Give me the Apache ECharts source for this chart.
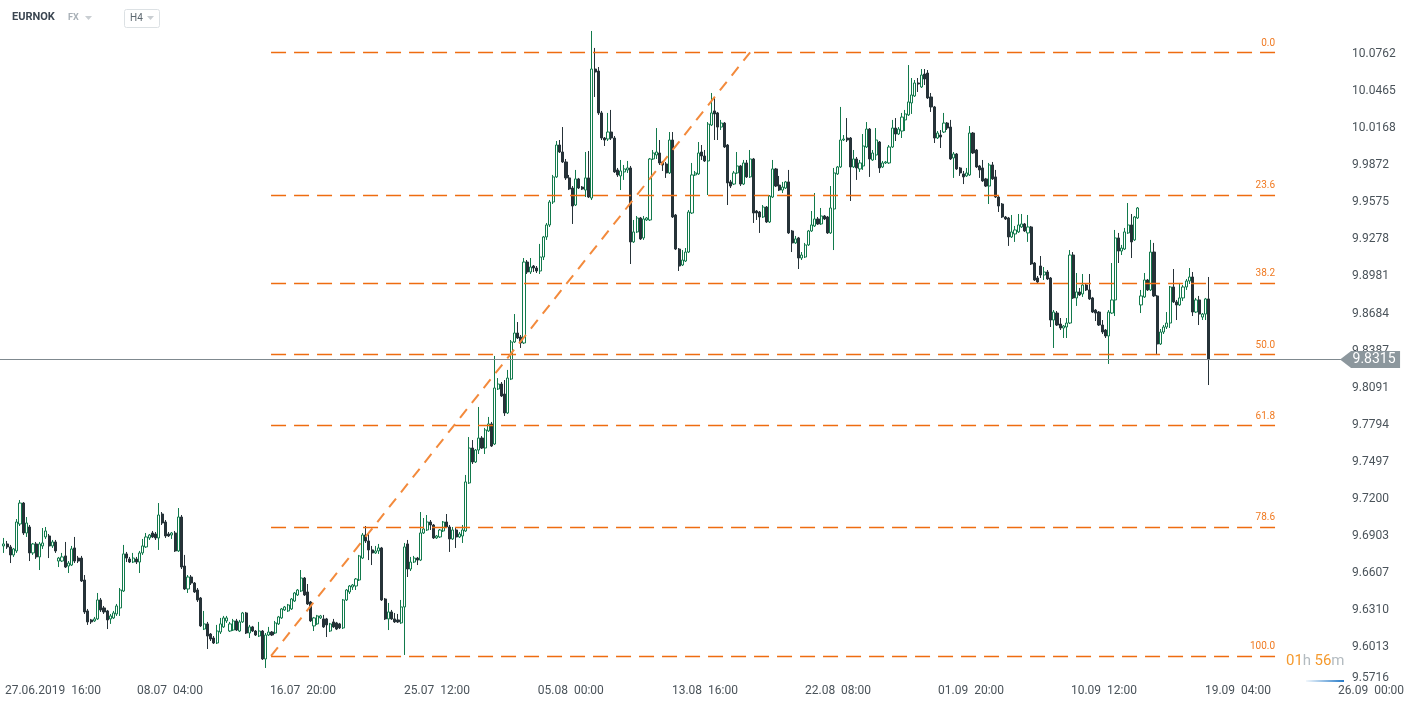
<!DOCTYPE html>
<html><head><meta charset="utf-8">
<script src="https://cdn.jsdelivr.net/npm/echarts@6/dist/echarts.min.js"></script>
<style>html,body{margin:0;padding:0;background:#fff;}#c{width:1412px;height:707px;}</style>
</head><body><div id="c"></div>
<script>
const instrument = 'EURNOK';
const market = 'FX';
const timeframe = 'H4';

const opens = [
9.6821,9.6837,9.6813,9.6749,9.6781,9.6997,9.7165,9.6925,9.6973,9.6765,
9.6837,9.6733,9.6821,9.6893,9.6901,9.6821,9.6853,9.6700,9.6700,9.6741,
9.6660,9.6668,9.6805,9.6724,9.6724,9.6548,9.6300,9.6228,9.6220,9.6236,
9.6388,9.6324,9.6300,9.6236,9.6244,9.6276,9.6324,9.6460,9.6757,9.6716,
9.6692,9.6716,9.6692,9.6765,9.6813,9.6885,9.6925,9.6917,9.6885,9.7077,
9.7013,9.6917,9.6909,9.6925,9.6781,9.7053,9.6660,9.6476,9.6572,9.6524,
9.6468,9.6404,9.6155,9.6196,9.6115,9.6083,9.6043,9.6131,9.6172,9.6220,
9.6139,9.6147,9.6220,9.6139,9.6212,9.6284,9.6123,9.6172,9.6139,9.6099,
9.6139,9.5915,9.6107,9.6131,9.6123,9.6196,9.6244,9.6308,9.6300,9.6316,
9.6380,9.6428,9.6460,9.6564,9.6452,9.6372,9.6180,9.6196,9.6244,9.6236,
9.6236,9.6139,9.6212,9.6204,9.6196,9.6164,9.6388,9.6452,9.6492,9.6500,
9.6548,9.6724,9.6909,9.6861,9.6789,9.6765,9.6781,9.6805,9.6396,9.6236,
9.6292,9.6236,9.6228,9.6204,9.6332,9.6837,9.6636,9.6692,9.6724,9.6708,
9.6925,9.6949,9.7013,9.6989,9.6885,9.6893,9.6941,9.7013,9.6973,9.6877,
9.6949,9.6893,9.6901,9.6941,9.7326,9.7606,9.7494,9.7590,9.7686,9.7606,
9.7743,9.7799,9.7638,9.8079,9.8119,9.8039,9.7887,9.8159,9.8456,9.8528,
9.8496,9.8448,9.9097,9.9017,9.9065,9.9049,9.9025,9.9137,9.9298,9.9394,
9.9578,9.9779,10.0035,9.9979,9.9899,9.9771,9.9690,9.9554,9.9763,9.9698,
9.9674,9.9771,9.9610,10.0644,10.0628,10.0292,10.0091,10.0083,10.0139,10.0091,
9.9835,9.9787,9.9819,9.9835,9.9851,9.9258,9.9338,9.9450,9.9290,9.9434,
9.9434,9.9923,9.9955,9.9971,9.9899,9.9883,9.9811,10.0075,9.9474,9.9201,
9.9073,9.9105,9.9177,9.9490,9.9795,9.9803,9.9979,9.9947,9.9907,10.0195,
10.0308,10.0292,10.0179,10.0211,10.0035,9.9739,9.9722,9.9811,9.9867,9.9722,
9.9891,9.9779,9.9923,9.9506,9.9498,9.9458,9.9538,9.9418,9.9618,9.9843,
9.9714,9.9674,9.9690,9.9739,9.9346,9.9250,9.9290,9.9129,9.9137,9.9234,
9.9346,9.9386,9.9442,9.9402,9.9466,9.9458,9.9330,9.9522,9.9803,9.9859,
10.0075,10.0091,10.0091,9.9859,9.9923,9.9843,9.9867,10.0019,10.0163,9.9915,
9.9955,10.0059,9.9859,9.9891,9.9891,10.0019,10.0171,10.0123,10.0147,10.0236,
10.0276,10.0372,10.0428,10.0532,10.0500,10.0604,10.0612,10.0420,10.0340,10.0091,
10.0115,10.0139,10.0211,10.0179,9.9931,9.9963,9.9851,9.9803,9.9787,9.9795,
10.0131,9.9995,9.9867,9.9851,9.9763,9.9706,9.9875,9.9779,9.9618,9.9562,
9.9458,9.9450,9.9298,9.9322,9.9338,9.9378,9.9402,9.9330,9.9378,9.9089,
9.8969,9.9065,9.8993,9.9017,9.8969,9.8632,9.8688,9.8600,9.8568,9.8576,
9.8608,9.9153,9.8809,9.8857,9.8841,9.8913,9.8873,9.8809,9.8712,9.8696,
9.8592,9.8552,9.8504,9.8688,9.8793,9.9290,9.9185,9.9201,9.9330,9.9394,
9.9274,9.9450,9.8753,9.8817,9.8953,9.8873,9.9177,9.8825,9.8440,9.8536,
9.8576,9.8608,9.8897,9.8777,9.8753,9.8809,9.8897,9.8945,9.8977,9.8696,
9.8793,9.8656,9.8680,9.8801
];
const closes = [
9.6837,9.6813,9.6749,9.6797,9.7013,9.7165,9.6925,9.7005,9.6765,9.6837,
9.6733,9.6837,9.6845,9.6941,9.6821,9.6853,9.6781,9.6724,9.6733,9.6652,
9.6684,9.6797,9.6700,9.6700,9.6540,9.6292,9.6212,9.6212,9.6236,9.6388,
9.6308,9.6292,9.6228,9.6260,9.6284,9.6340,9.6468,9.6757,9.6724,9.6692,
9.6724,9.6692,9.6765,9.6821,9.6893,9.6909,9.6893,9.6885,9.7069,9.7005,
9.6901,9.6901,9.6925,9.6781,9.7053,9.6652,9.6476,9.6572,9.6524,9.6452,
9.6388,9.6180,9.6196,9.6099,9.6075,9.6043,9.6139,9.6196,9.6244,9.6244,
9.6196,9.6220,9.6147,9.6212,9.6284,9.6123,9.6172,9.6139,9.6107,9.6139,
9.5915,9.6107,9.6131,9.6107,9.6204,9.6252,9.6316,9.6332,9.6348,9.6396,
9.6444,9.6468,9.6564,9.6428,9.6356,9.6220,9.6244,9.6260,9.6260,9.6172,
9.6188,9.6196,9.6172,9.6155,9.6164,9.6388,9.6468,9.6500,9.6508,9.6556,
9.6741,9.6909,9.6861,9.6789,9.6765,9.6781,9.6805,9.6388,9.6236,9.6292,
9.6236,9.6212,9.6212,9.6332,9.6813,9.6636,9.6692,9.6724,9.6708,9.6925,
9.6957,9.7013,9.6989,9.6885,9.6901,9.6949,9.7013,9.6973,9.6877,9.6949,
9.6893,9.6917,9.6949,9.7334,9.7606,9.7494,9.7590,9.7686,9.7606,9.7751,
9.7799,9.7622,9.8087,9.8119,9.8023,9.7887,9.8167,9.8456,9.8528,9.8488,
9.8448,9.9097,9.9017,9.9057,9.9049,9.9025,9.9137,9.9298,9.9394,9.9578,
9.9779,10.0035,9.9979,9.9899,9.9771,9.9682,9.9546,9.9763,9.9690,9.9682,
9.9771,9.9618,10.0644,10.0620,10.0292,10.0091,10.0075,10.0139,10.0091,9.9819,
9.9795,9.9827,9.9843,9.9851,9.9258,9.9338,9.9450,9.9282,9.9442,9.9450,
9.9923,9.9971,9.9979,9.9891,9.9875,9.9811,10.0075,9.9458,9.9201,9.9065,
9.9113,9.9177,9.9498,9.9795,9.9811,9.9971,9.9947,9.9907,10.0203,10.0292,
10.0284,10.0179,10.0211,10.0019,9.9731,9.9706,9.9811,9.9867,9.9722,9.9891,
9.9779,9.9923,9.9490,9.9490,9.9458,9.9538,9.9418,9.9626,9.9843,9.9706,
9.9674,9.9698,9.9739,9.9330,9.9250,9.9282,9.9129,9.9153,9.9234,9.9346,
9.9394,9.9442,9.9402,9.9466,9.9442,9.9330,9.9530,9.9811,9.9859,10.0075,
10.0083,10.0075,9.9859,9.9923,9.9851,9.9891,10.0027,10.0163,9.9923,9.9971,
10.0075,9.9851,9.9891,9.9899,10.0019,10.0171,10.0123,10.0163,10.0259,10.0284,
10.0380,10.0436,10.0532,10.0524,10.0596,10.0564,10.0412,10.0340,10.0091,10.0131,
10.0099,10.0211,10.0171,9.9923,9.9963,9.9843,9.9811,9.9779,9.9811,10.0131,
9.9971,9.9859,9.9835,9.9747,9.9706,9.9875,9.9763,9.9618,9.9546,9.9458,
9.9442,9.9298,9.9338,9.9354,9.9394,9.9402,9.9346,9.9378,9.9081,9.8953,
9.8937,9.8993,9.9017,9.8961,9.8632,9.8696,9.8592,9.8568,9.8584,9.8608,
9.9153,9.8809,9.8857,9.8833,9.8913,9.8873,9.8801,9.8696,9.8688,9.8592,
9.8536,9.8504,9.8696,9.8793,9.9290,9.9185,9.9209,9.9338,9.9394,9.9258,
9.9458,9.9530,9.8825,9.8953,9.8873,9.9177,9.8825,9.8440,9.8536,9.8576,
9.8608,9.8897,9.8777,9.8753,9.8809,9.8897,9.8945,9.8977,9.8696,9.8793,
9.8680,9.8680,9.8801,9.8315
];
const lows = [
9.6765,9.6797,9.6684,9.6733,9.6765,9.6981,9.6909,9.6893,9.6700,9.6749,
9.6717,9.6628,9.6797,9.6877,9.6724,9.6805,9.6765,9.6652,9.6692,9.6644,
9.6604,9.6660,9.6684,9.6684,9.6532,9.6276,9.6188,9.6196,9.6212,9.6228,
9.6292,9.6276,9.6155,9.6196,9.6236,9.6260,9.6260,9.6452,9.6692,9.6684,
9.6684,9.6676,9.6604,9.6749,9.6805,9.6869,9.6885,9.6869,9.6789,9.6989,
9.6885,9.6893,9.6877,9.6773,9.6773,9.6636,9.6468,9.6444,9.6508,9.6444,
9.6372,9.6172,9.6147,9.5995,9.6059,9.6035,9.6035,9.6115,9.6164,9.6204,
9.6131,9.6139,9.6139,9.6131,9.6204,9.6115,9.6083,9.6131,9.6099,9.6091,
9.5907,9.5843,9.6099,9.6099,9.6115,9.6188,9.6236,9.6300,9.6292,9.6308,
9.6372,9.6420,9.6452,9.6420,9.6348,9.6212,9.6139,9.6188,9.6236,9.6164,
9.6091,9.6131,9.6164,9.6147,9.6155,9.6155,9.6380,9.6436,9.6468,9.6468,
9.6540,9.6716,9.6845,9.6708,9.6668,9.6757,9.6757,9.6380,9.6228,9.6147,
9.6228,9.6204,9.6204,9.6196,9.5947,9.6572,9.6620,9.6684,9.6668,9.6700,
9.6917,9.6941,9.6949,9.6877,9.6877,9.6885,9.6933,9.6965,9.6773,9.6869,
9.6805,9.6885,9.6845,9.6933,9.7318,9.7478,9.7486,9.7558,9.7598,9.7558,
9.7735,9.7614,9.7630,9.8071,9.8015,9.7863,9.7879,9.8151,9.8448,9.8480,
9.8408,9.8440,9.9001,9.9001,9.9017,9.9009,9.9001,9.9113,9.9274,9.9378,
9.9562,9.9771,9.9971,9.9891,9.9755,9.9674,9.9402,9.9546,9.9682,9.9674,
9.9618,9.9610,9.9594,10.0420,10.0276,10.0075,10.0027,10.0067,10.0075,9.9811,
9.9779,9.9674,9.9755,9.9811,9.9081,9.9250,9.9330,9.9274,9.9274,9.9426,
9.9426,9.9915,9.9923,9.9875,9.9827,9.9771,9.9803,9.9450,9.9193,9.9025,
9.9065,9.9097,9.9169,9.9482,9.9787,9.9795,9.9915,9.9899,9.9634,10.0187,
10.0075,10.0075,10.0155,10.0011,9.9554,9.9690,9.9714,9.9803,9.9706,9.9714,
9.9771,9.9771,9.9410,9.9434,9.9330,9.9450,9.9410,9.9410,9.9610,9.9698,
9.9666,9.9650,9.9682,9.9322,9.9177,9.9242,9.9041,9.9113,9.9129,9.9226,
9.9338,9.9378,9.9394,9.9394,9.9434,9.9322,9.9322,9.9193,9.9795,9.9851,
10.0067,10.0059,9.9586,9.9851,9.9755,9.9819,9.9835,10.0011,9.9779,9.9907,
9.9915,9.9811,9.9851,9.9883,9.9883,10.0011,10.0067,10.0115,10.0091,10.0147,
10.0268,10.0284,10.0420,10.0460,10.0492,10.0516,10.0404,10.0300,10.0051,10.0083,
10.0011,10.0131,10.0155,9.9915,9.9771,9.9835,9.9787,9.9722,9.9779,9.9787,
9.9963,9.9851,9.9771,9.9739,9.9698,9.9562,9.9755,9.9610,9.9498,9.9450,
9.9434,9.9226,9.9290,9.9258,9.9330,9.9370,9.9338,9.9258,9.9073,9.8945,
9.8921,9.8969,9.8953,9.8953,9.8576,9.8408,9.8584,9.8552,9.8488,9.8488,
9.8600,9.8801,9.8745,9.8825,9.8817,9.8865,9.8793,9.8688,9.8624,9.8584,
9.8520,9.8488,9.8280,9.8680,9.8664,9.9089,9.9153,9.9193,9.9322,9.9129,
9.9266,9.9442,9.8688,9.8809,9.8865,9.8865,9.8817,9.8360,9.8432,9.8520,
9.8560,9.8568,9.8769,9.8632,9.8745,9.8785,9.8873,9.8921,9.8664,9.8688,
9.8592,9.8632,9.8632,9.8111
];
const highs = [
9.6885,9.6861,9.6829,9.6805,9.7037,9.7189,9.7173,9.7053,9.6989,9.6845,
9.6853,9.6853,9.6965,9.6973,9.6917,9.6869,9.6869,9.6733,9.6765,9.6853,
9.6700,9.6821,9.6893,9.6741,9.6741,9.6588,9.6316,9.6236,9.6252,9.6444,
9.6404,9.6340,9.6308,9.6276,9.6300,9.6356,9.6484,9.6829,9.6773,9.6733,
9.6765,9.6733,9.6781,9.6877,9.6925,9.6917,9.6941,9.6933,9.7165,9.7093,
9.7029,9.6933,9.6933,9.6941,9.7125,9.7069,9.6749,9.6588,9.6588,9.6532,
9.6484,9.6412,9.6300,9.6212,9.6123,9.6099,9.6188,9.6244,9.6260,9.6260,
9.6212,9.6236,9.6236,9.6228,9.6292,9.6292,9.6188,9.6180,9.6147,9.6212,
9.6147,9.6123,9.6172,9.6139,9.6220,9.6260,9.6324,9.6340,9.6356,9.6404,
9.6452,9.6476,9.6628,9.6572,9.6516,9.6380,9.6252,9.6268,9.6268,9.6268,
9.6244,9.6204,9.6236,9.6212,9.6204,9.6396,9.6476,9.6508,9.6516,9.6564,
9.6749,9.6925,9.6981,9.6917,9.6821,9.6821,9.6837,9.6813,9.6404,9.6364,
9.6308,9.6284,9.6276,9.6388,9.6845,9.6869,9.6733,9.6741,9.6733,9.7093,
9.7045,9.7069,9.7029,9.6997,9.6909,9.6957,9.7021,9.7077,9.6989,9.6973,
9.6965,9.6933,9.6989,9.7390,9.7694,9.7670,9.7598,9.7935,9.7702,9.7767,
9.7855,9.7815,9.8344,9.8167,9.8135,9.8151,9.8232,9.8472,9.8680,9.8616,
9.8512,9.9129,9.9113,9.9129,9.9073,9.9065,9.9242,9.9306,9.9410,9.9594,
9.9795,10.0067,10.0075,10.0179,9.9923,9.9795,9.9706,9.9835,9.9771,9.9706,
9.9979,9.9987,10.0949,10.0813,10.0660,10.0308,10.0099,10.0292,10.0316,10.0107,
9.9851,9.9915,9.9875,9.9907,9.9867,9.9434,9.9466,9.9458,9.9466,9.9458,
9.9931,9.9995,10.0171,10.0075,9.9907,9.9899,10.0139,10.0139,9.9482,9.9209,
9.9193,9.9209,9.9514,9.9891,9.9827,10.0059,10.0035,9.9995,10.0219,10.0452,
10.0420,10.0300,10.0236,10.0219,10.0043,9.9755,9.9827,9.9979,9.9875,9.9915,
9.9915,9.9995,9.9931,9.9514,9.9506,9.9554,9.9546,9.9634,9.9915,9.9851,
9.9787,9.9739,9.9747,9.9835,9.9354,9.9306,9.9298,9.9177,9.9250,9.9354,
9.9506,9.9650,9.9458,9.9530,9.9474,9.9466,9.9706,9.9851,9.9867,10.0340,
10.0115,10.0251,10.0099,9.9995,9.9939,9.9915,10.0123,10.0219,10.0171,9.9995,
10.0171,10.0067,9.9907,9.9907,10.0035,10.0236,10.0251,10.0179,10.0292,10.0316,
10.0676,10.0572,10.0556,10.0572,10.0644,10.0644,10.0636,10.0452,10.0348,10.0147,
10.0155,10.0292,10.0219,10.0236,9.9979,9.9971,9.9859,9.9827,9.9851,10.0187,
10.0139,10.0003,9.9875,9.9915,9.9771,9.9891,9.9899,9.9835,9.9626,9.9570,
9.9466,9.9458,9.9474,9.9386,9.9482,9.9482,9.9410,9.9474,9.9386,9.9097,
9.8985,9.9145,9.9057,9.9033,9.8977,9.8712,9.8704,9.8648,9.8592,9.8648,
9.9193,9.9177,9.9009,9.8889,9.9001,9.8921,9.9001,9.8817,9.8720,9.8704,
9.8632,9.8560,9.8712,9.9089,9.9354,9.9330,9.9234,9.9370,9.9570,9.9482,
9.9466,9.9538,9.8873,9.9009,9.8961,9.9274,9.9250,9.8833,9.8560,9.8592,
9.8696,9.8905,9.9041,9.8793,9.8929,9.8913,9.8961,9.9049,9.9017,9.8809,
9.8825,9.8688,9.8809,9.8977
];

// time axis: positions in candle-index units and their labels
const timeTickPos = [15.2, 51.4, 92.6, 134.1, 175.5, 217.0, 258.2, 299.4, 340.5, 382.0, 423.2];
const timeTickLabels = ['27.06.2019  16:00', '08.07  04:00', '16.07  20:00', '25.07  12:00', '05.08  00:00',
  '13.08  16:00', '22.08  08:00', '01.09  20:00', '10.09  12:00', '19.09  04:00', '26.09  00:00'];
// price axis tick labels
const priceTicks = ['9.5716', '9.6013', '9.6310', '9.6607', '9.6903', '9.7200', '9.7497', '9.7794', '9.8091',
  '9.8387', '9.8684', '9.8981', '9.9278', '9.9575', '9.9872', '10.0168', '10.0465', '10.0762'];

// Fibonacci retracement drawing (anchors in candle index / price)
const fibHigh = 10.0778;
const fibLow = 9.5939;
const fibStartIdx = 82.7;
const fibEndIdx = 393.5;
const trendTopIdx = 231.0;
const fibRatios = [0, 23.6, 38.2, 50, 61.8, 78.6, 100];

const lastPrice = 9.8315;
const lastPriceLineEndIdx = 415;
const lastPriceTagIdx = 422.9;
const countdown = ['01', '56'];

const xMin = -1.2, xMax = 433.4;
const yMin = 9.5716, yMax = 10.1037;

const FONT = 'Roboto, "Noto Sans", sans-serif';
const ORANGE = '#ee6c10';

const candleData = opens.map((o, i) => [i, o, closes[i], lows[i], highs[i]]);
const fibRange = fibHigh - fibLow;
const fibLabelStyle = (txt) => ({
  show: true, position: 'insideEndTop', formatter: txt, color: '#f07a22',
  fontSize: 10, fontFamily: FONT, distance: [0, 4]
});
const fibStyle = { color: ORANGE, width: 1.4, type: [15, 8] };
const markLines = fibRatios.map(r => {
  const v = fibHigh - r / 100 * fibRange;
  const txt = r.toFixed(1);
  return [
    { coord: [fibStartIdx, v], lineStyle: fibStyle, label: fibLabelStyle(txt) },
    { coord: [fibEndIdx, v], lineStyle: fibStyle, label: fibLabelStyle(txt) }
  ];
});
const trendStyle = { color: '#f38a3c', width: 2, type: [11, 8] };
markLines.push([
  { coord: [fibStartIdx, fibLow], lineStyle: trendStyle, label: { show: false } },
  { coord: [trendTopIdx, fibHigh], lineStyle: trendStyle, label: { show: false } }
]);
const priceLineStyle = { color: '#7f898f', width: 1, type: 'solid' };
markLines.push([
  { coord: [xMin, lastPrice], lineStyle: priceLineStyle, label: { show: false } },
  { coord: [lastPriceLineEndIdx, lastPrice], lineStyle: priceLineStyle, label: { show: false } }
]);

const labelMap = {};
timeTickPos.forEach((p, i) => { labelMap[p.toFixed(1)] = timeTickLabels[i]; });

const chart = echarts.init(document.getElementById('c'));
chart.setOption({
  animation: false,
  backgroundColor: '#ffffff',
  grid: { left: 0, right: 8, top: 20, bottom: 23.2, containLabel: false, outerBoundsMode: 'none' },
  xAxis: {
    type: 'value', min: xMin, max: xMax,
    axisLine: { show: false }, axisTick: { show: false }, splitLine: { show: false },
    axisLabel: {
      customValues: timeTickPos,
      formatter: v => labelMap[Number(v).toFixed(1)] || '',
      color: '#4a535a', fontSize: 12, fontFamily: FONT, margin: 1, hideOverlap: false
    }
  },
  yAxis: {
    type: 'value', position: 'right', min: yMin, max: yMax, scale: true,
    axisLine: { show: false }, axisTick: { show: false }, splitLine: { show: false },
    axisLabel: {
      customValues: priceTicks.map(Number),
      formatter: v => priceTicks.find(t => Math.abs(Number(t) - v) < 1e-6) || '',
      inside: true, align: 'left', margin: 52,
      verticalAlignMinLabel: 'bottom',
      color: '#4a535a', fontSize: 12, fontFamily: FONT, hideOverlap: false
    }
  },
  series: [{
    type: 'candlestick',
    data: candleData,
    encode: { x: 0, y: [1, 2, 3, 4] },
    barWidth: 2.6,
    clip: false,
    itemStyle: { color: '#ffffff', color0: '#263238', borderColor: '#127a4c', borderColor0: '#263238', borderWidth: 1 },
    emphasis: { disabled: true },
    markLine: { silent: true, symbol: ['none', 'none'], animation: false, data: markLines },
    markPoint: {
      silent: true, animation: false,
      symbol: 'path://M0,8.5L11,0L60,0L60,17L11,17Z',
      symbolSize: [60, 17],
      itemStyle: { color: '#8c979d' },
      label: { show: true, color: '#ffffff', fontSize: 14, fontFamily: FONT, offset: [4, 0], formatter: lastPrice.toFixed(4) },
      data: [{ coord: [lastPriceTagIdx, lastPrice], value: lastPrice }]
    }
  }],
  graphic: [
    { type: 'text', left: 12, top: 12, style: { text: instrument, font: 'bold 11px ' + FONT, fill: '#3b4651' } },
    { type: 'text', left: 68, top: 13, style: { text: market, font: 'bold 9px ' + FONT, fill: '#a8b0b7' } },
    { type: 'polygon', shape: { points: [[85, 16], [92, 16], [88.5, 20]] }, style: { fill: '#c9ced2' } },
    { type: 'rect', shape: { x: 124.5, y: 9.5, width: 35, height: 18, r: 2 }, style: { fill: '#fff', stroke: '#dce1e4', lineWidth: 1 } },
    { type: 'text', left: 130, top: 13, style: { text: timeframe, font: '10px ' + FONT, fill: '#5d6870' } },
    { type: 'polygon', shape: { points: [[147, 16], [154, 16], [150.5, 20]] }, style: { fill: '#c9ced2' } },
    { type: 'text', left: 1286, top: 654, style: {
        text: '{o|' + countdown[0] + '}{g|h} {o|' + countdown[1] + '}{g|m}',
        rich: { o: { fontSize: 15, fontFamily: FONT, fill: '#f59a2e' }, g: { fontSize: 15, fontFamily: FONT, fill: '#b3bbc0' } }
      } },
    { type: 'line', shape: { x1: 1306, y1: 681, x2: 1344, y2: 681 },
      style: { lineWidth: 2, stroke: new echarts.graphic.LinearGradient(0, 0, 1, 0, [
        { offset: 0, color: 'rgba(30,120,200,0)' }, { offset: 1, color: '#1670c4' }]) } }
  ]
});
</script>
</body></html>
